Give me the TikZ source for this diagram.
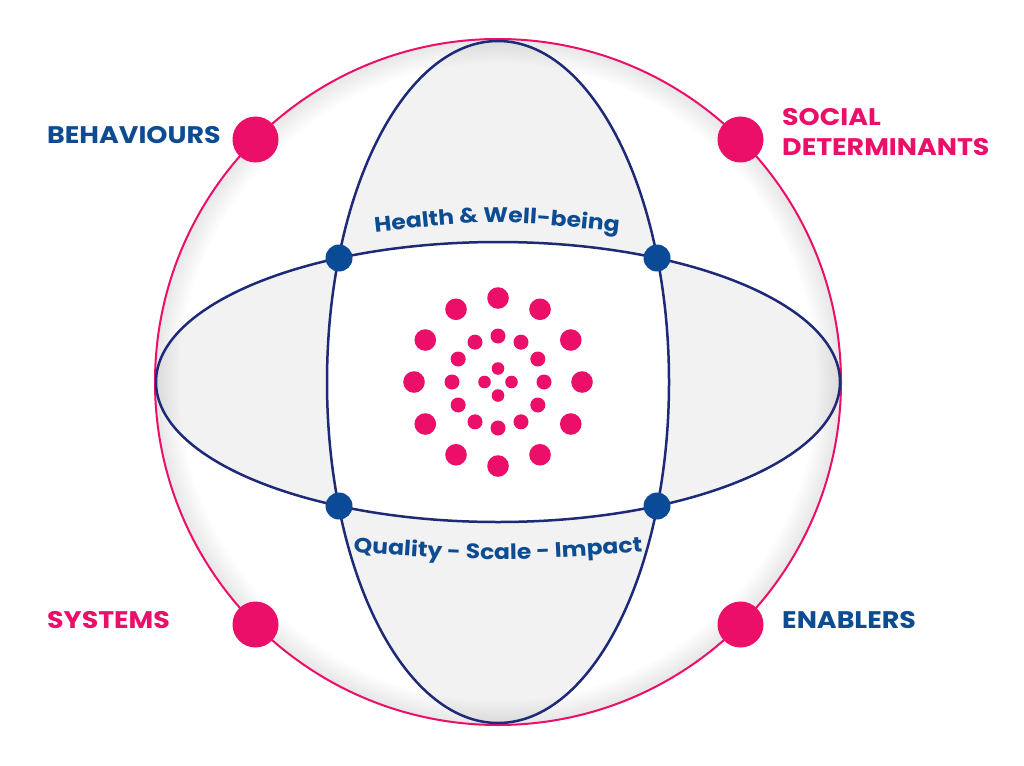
\documentclass[tikz,border=0pt]{standalone}
\usepackage{fontspec}
\setmainfont{Poppins}[FakeStretch=1.12]
\usetikzlibrary{decorations.text}
\definecolor{pinkc}{HTML}{EC0F6A}
\definecolor{navyline}{HTML}{1E2A78}
\definecolor{bluedot}{HTML}{0A4A97}
\definecolor{bluet}{HTML}{0E4C92}
\definecolor{graybg}{HTML}{F2F2F3}
\tikzset{
  label/.style={font=\fontsize{24}{30}\selectfont\bfseries, inner sep=0pt},
  pinklabel/.style={label, text=pinkc},
  bluelabel/.style={label, text=bluet},
  rimdot/.style={circle, fill=pinkc, minimum size=46pt, inner sep=0pt},
  crossdot/.style={circle, fill=bluedot, minimum size=27pt, inner sep=0pt},
  ring/.style={navyline, line width=2.5pt},
}
\begin{document}
\begin{tikzpicture}[x=1pt,y=-1pt]
\useasboundingbox (0,0) rectangle (1024,765);
\fill[white] (0,0) rectangle (1024,765);
\coordinate (c) at (498,382);
% gray lens regions
\fill[graybg, even odd rule] (c) ellipse [x radius=171, y radius=341]
                             (c) ellipse [x radius=342, y radius=140];
% rim shading
\foreach \k in {2,4,...,24}
  \fill[black, opacity=0.009, even odd rule] (c) circle (343) circle (343-\k);
% outer circle
\draw[pinkc, line width=2pt] (c) circle (343);
% ellipses
\draw[ring] (c) ellipse [x radius=171, y radius=341];
\draw[ring] (c) ellipse [x radius=342, y radius=140];
% intersection dots
\node[crossdot] (i1) at (339,258) {};
\node[crossdot] (i2) at (657,258) {};
\node[crossdot] (i3) at (339,506) {};
\node[crossdot] (i4) at (657,506) {};
% rim dots
\node[rimdot] (d1) at (255.5,139.5) {};
\node[rimdot] (d2) at (740.5,139.5) {};
\node[rimdot] (d3) at (255.5,624.5) {};
\node[rimdot] (d4) at (740.5,624.5) {};
% labels
\node[bluelabel, anchor=base west] (beh) at (47,143) {BEHAVIOURS};
\node[pinklabel, anchor=base west] (soc) at (782,125) {SOCIAL};
\node[pinklabel, anchor=base west] (det) at (782,155) {DETERMINANTS};
\node[pinklabel, anchor=base west] (sys) at (47,628) {SYSTEMS};
\node[bluelabel, anchor=base west] (ena) at (782,628) {ENABLERS};
% central dots
\foreach \a in {0,30,...,330}
  \fill[pinkc] ([shift={(\a:84)}]c) circle (10.8);
\foreach \a in {0,30,...,330}
  \fill[pinkc] ([shift={(\a:46)}]c) circle (7.5);
\foreach \a in {0,90,180,270}
  \fill[pinkc] ([shift={(\a:13.5)}]c) circle (6.3);
% curved texts
\path[decorate, decoration={text along path, text align=center, text color=bluet,
  text={|\fontsize{21}{25}\selectfont\bfseries|Health {\&} Well-being}}]
  (368,233) .. controls (497,219) .. (626,233);
\path[decorate, decoration={text along path, text align=center, text color=bluet,
  text={|\fontsize{21}{25}\selectfont\bfseries|Quality - Scale - Impact}}]
  (348,552) .. controls (497,562) .. (648,552);
\end{tikzpicture}
\end{document}
